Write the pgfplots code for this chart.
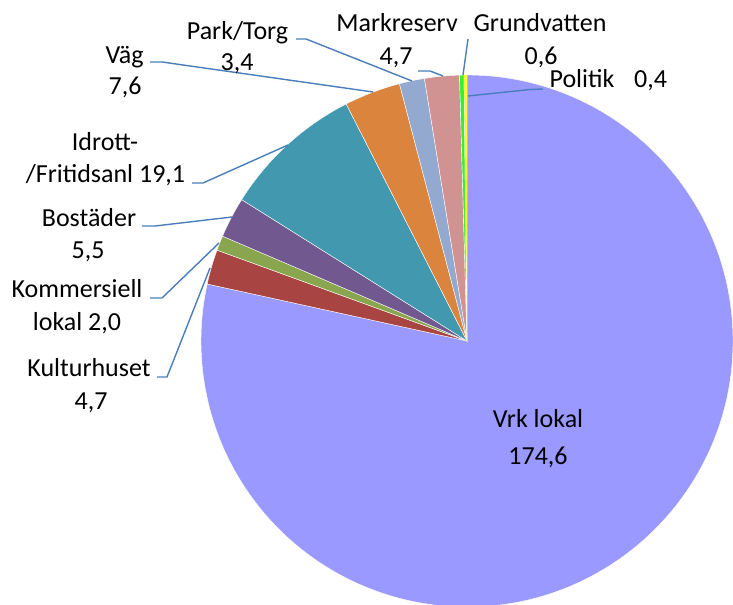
\documentclass[border=0pt]{standalone}
\usepackage{pgfplots}
\pgfplotsset{compat=1.18}
\usepackage{pgfplotstable}
\usepackage{fontspec}
\setmainfont{Carlito}

\definecolor{slice0}{HTML}{9999FF}
\definecolor{slice1}{HTML}{A84543}
\definecolor{slice2}{HTML}{89A54E}
\definecolor{slice3}{HTML}{71588F}
\definecolor{slice4}{HTML}{4198AF}
\definecolor{slice5}{HTML}{DB843D}
\definecolor{slice6}{HTML}{93A9CF}
\definecolor{slice7}{HTML}{D19392}
\definecolor{slice8}{HTML}{33F033}
\definecolor{slice9}{HTML}{FFFF00}
\definecolor{leader}{HTML}{4A7EBB}

\tikzset{lbl/.style={anchor=base, font=\fontsize{26bp}{31bp}\selectfont, text=black, inner sep=0pt}}

\pgfplotstableread{
label value
Vrk 174.6
Kultur 4.7
Komm 2.0
Bost 5.5
Idrott 19.1
Vag 7.6
Park 3.4
Mark 4.7
Grund 0.6
Pol 0.4
}\piedata

\newcommand\cx{467}
\newcommand\cy{-341}
\newcommand\rad{266}

\begin{document}
\begin{tikzpicture}
\pgfmathsetmacro\total{0}
\pgfplotsforeachungrouped \i in {0,...,9}{%
  \pgfplotstablegetelem{\i}{value}\of\piedata
  \pgfmathsetmacro\total{\total+\pgfplotsretval}}
\def\cur{90}
\pgfplotsforeachungrouped \i in {0,...,9}{%
  \pgfplotstablegetelem{\i}{value}\of\piedata
  \pgfmathsetmacro\sweep{\pgfplotsretval/\total*360}%
  \pgfmathsetmacro\nxt{\cur-\sweep}%
  \expandafter\xdef\csname sa\i\endcsname{\cur}%
  \expandafter\xdef\csname ea\i\endcsname{\nxt}%
  \global\let\cur\nxt}
\begin{axis}[scale only axis, width=733bp, height=605bp,
  xmin=0, xmax=733, ymin=-605, ymax=0, hide axis, clip=true]
\pgfplotsinvokeforeach{0,...,9}{%
  \edef\temp{\noexpand\fill[slice#1, draw=white, line width=0.4bp]
    (axis cs:\cx,\cy) -- ++(\csname sa#1\endcsname:\rad bp)
    arc[start angle=\csname sa#1\endcsname, end angle=\csname ea#1\endcsname, radius=\rad bp] -- cycle;}%
  \temp}
% leader lines
\begin{scope}[leader, line width=1.4bp]
\draw (axis cs:296,-39) -- (axis cs:306,-39) -- (axis cs:412,-81);
\draw (axis cs:150,-62) -- (axis cs:162,-62) -- (axis cs:373,-92);
\draw (axis cs:418,-71) -- (axis cs:430,-71) -- (axis cs:443,-76);
\draw (axis cs:468,-39) -- (axis cs:463,-75);
\draw (axis cs:543,-89) -- (axis cs:530,-89.5) -- (axis cs:468,-96);
\draw (axis cs:192,-183) -- (axis cs:203,-183) -- (axis cs:288,-145);
\draw (axis cs:142,-226) -- (axis cs:155,-226) -- (axis cs:232,-217);
\draw (axis cs:150,-298) -- (axis cs:162,-298) -- (axis cs:219,-243);
\draw (axis cs:157,-377) -- (axis cs:167,-377) -- (axis cs:210,-268);
\end{scope}
% labels
\node[lbl] at (axis cs:237.5,-40) {Park/Torg};
\node[lbl] at (axis cs:237,-71) {3,4};
\node[lbl] at (axis cs:124.5,-64) {Väg};
\node[lbl] at (axis cs:125,-95) {7,6};
\node[lbl] at (axis cs:105,-151) {Idrott-};
\node[lbl] at (axis cs:105.5,-183) {/Fritidsanl 19,1};
\node[lbl] at (axis cs:89,-227) {Bostäder};
\node[lbl] at (axis cs:88,-259) {5,5};
\node[lbl] at (axis cs:77,-298) {Kommersiell};
\node[lbl] at (axis cs:77,-331) {lokal 2,0};
\node[lbl] at (axis cs:89,-377) {Kulturhuset};
\node[lbl] at (axis cs:91,-410) {4,7};
\node[lbl] at (axis cs:397,-32) {Markreserv};
\node[lbl] at (axis cs:396,-65) {4,7};
\node[lbl] at (axis cs:540,-32) {Grundvatten};
\node[lbl] at (axis cs:541,-65) {0,6};
\node[lbl] at (axis cs:582,-88) {Politik};
\node[lbl] at (axis cs:650.5,-88) {0,4};
\node[lbl] at (axis cs:538,-428) {Vrk lokal};
\node[lbl] at (axis cs:538,-465) {174,6};
\end{axis}
\pgfresetboundingbox
\useasboundingbox (0,0) rectangle (733bp,605bp);
\end{tikzpicture}
\end{document}
